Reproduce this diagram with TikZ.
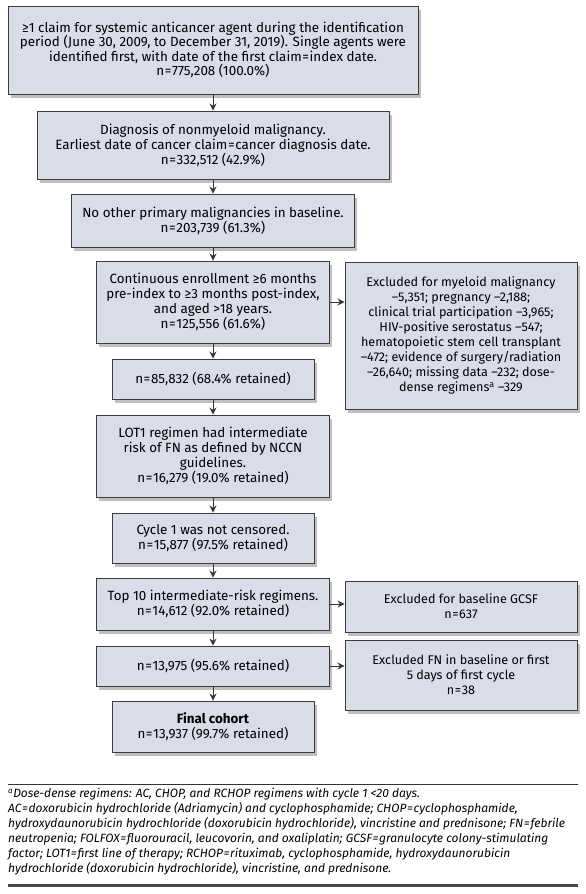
\documentclass[tikz,border=0pt]{standalone}
\usepackage{fontspec}
\setmainfont{Fira Sans}
\usetikzlibrary{shadows,arrows.meta}
\definecolor{boxfill}{RGB}{217,220,233}
\definecolor{boxline}{RGB}{60,60,60}
\definecolor{arrowcol}{RGB}{55,55,55}
\newcommand{\eq}{\kern0.6pt=\kern0.6pt}
\tikzset{
  flowbox/.style={draw=boxline, line width=0.9pt, fill=boxfill, align=center,
    inner sep=2pt, font=\fontsize{13.4}{15}\selectfont,
    drop shadow={shadow xshift=2.5pt, shadow yshift=-3.5pt, opacity=0.25, fill=black}},
  exclbox/.style={flowbox, font=\fontsize{12.6}{15}\selectfont},
  flowarrow/.style={draw=arrowcol, line width=1pt, -{Stealth[length=7pt,width=7pt]}}
}
\begin{document}
\begin{tikzpicture}[x=1pt,y=-1pt]
\useasboundingbox[fill=white] (0,0) rectangle (586,894);
% main column
\node[flowbox, minimum width=410pt, minimum height=88pt,
  font=\fontsize{13.4}{14.4}\selectfont] (b1) at (213,50)
  {≥1 claim for systemic anticancer agent during the identification\\
   period (June 30, 2009, to December 31, 2019). Single agents were\\
   identified first, with date of the first claim\eq index date.\\
   n\eq 775,208 (100.0\%)};
\node[flowbox, minimum width=352pt, minimum height=68pt] (b2) at (213,145)
  {Diagnosis of nonmyeloid malignancy.\\
   Earliest date of cancer claim\eq cancer diagnosis date.\\
   n\eq 332,512 (42.9\%)};
\node[flowbox, minimum width=283pt, minimum height=53pt] (b3) at (213,220.5)
  {No other primary malignancies in baseline.\\
   n\eq 203,739 (61.3\%)};
\node[flowbox, minimum width=233pt, minimum height=82pt] (b4) at (213,302)
  {Continuous enrollment ≥6 months\\
   pre-index to ≥3 months post-index,\\
   and aged >18 years.\\
   n\eq 125,556 (61.6\%)};
\node[flowbox, minimum width=202pt, minimum height=40pt] (b5) at (213,379)
  {n\eq 85,832 (68.4\% retained)};
\node[flowbox, minimum width=233pt, minimum height=82pt] (b6) at (213,456)
  {LOT1 regimen had intermediate\\
   risk of FN as defined by NCCN\\
   guidelines.\\
   n\eq 16,279 (19.0\% retained)};
\node[flowbox, minimum width=202pt, minimum height=50pt] (b7) at (213,538)
  {Cycle 1 was not censored.\\
   n\eq 15,877 (97.5\% retained)};
\node[flowbox, minimum width=233pt, minimum height=52pt] (b8) at (213,604)
  {Top 10 intermediate-risk regimens.\\
   n\eq 14,612 (92.0\% retained)};
\node[flowbox, minimum width=233pt, minimum height=40pt] (b9) at (213,666)
  {n\eq 13,975 (95.6\% retained)};
\node[flowbox, minimum width=202pt, minimum height=51pt] (b10) at (213,726.5)
  {\textbf{Final cohort}\\
   n\eq 13,937 (99.7\% retained)};
% exclusion boxes
\node[exclbox, minimum width=232pt, minimum height=147pt] (e1) at (461,335.5)
  {Excluded for myeloid malignancy\\
   –5,351; pregnancy –2,188;\\
   clinical trial participation –3,965;\\
   HIV-positive serostatus –547;\\
   hematopoietic stem cell transplant\\
   –472; evidence of surgery/radiation\\
   –26,640; missing data –232; dose-\\
   dense regimens\textsuperscript{a} –329};
\node[exclbox, minimum width=232pt, minimum height=51pt] (e2) at (461,606.5)
  {Excluded for baseline GCSF\\
   n\eq 637};
\node[exclbox, minimum width=232pt, minimum height=70pt] (e3) at (461,675)
  {Excluded FN in baseline or first\\
   5 days of first cycle\\
   n\eq 38};
% connectors
\draw[flowarrow] (b1) -- (b2);
\draw[flowarrow] (b2) -- (b3);
\draw[flowarrow] (b3) -- (b4);
\draw[flowarrow] (b4) -- (b5);
\draw[flowarrow] (b5) -- (b6);
\draw[flowarrow] (b6) -- (b7);
\draw[flowarrow] (b7) -- (b8);
\draw[flowarrow] (b8) -- (b9);
\draw[flowarrow] (b9) -- (b10);
\draw[flowarrow] (b4.east) -- (e1.west |- b4.east);
\draw[flowarrow] (b8.east) -- (e2.west |- b8.east);
\draw[flowarrow] (b9.east) -- (e3.west |- b9.east);
% footnote
\coordinate (rl) at (8,784);
\coordinate (rr) at (578,784);
\draw[line width=0.8pt, draw=black!80] (rl) -- (rr);
\node[anchor=north west, inner sep=0pt, align=left,
  font=\fontsize{12}{15}\selectfont\itshape] (fn) at (8,788)
  {\textsuperscript{a}Dose-dense regimens: AC, CHOP, and RCHOP regimens with cycle 1 <20 days.\\
   AC\eq doxorubicin hydrochloride (Adriamycin) and cyclophosphamide; CHOP\eq cyclophosphamide,\\
   hydroxydaunorubicin hydrochloride (doxorubicin hydrochloride), vincristine and prednisone; FN\eq febrile\\
   neutropenia; FOLFOX\eq fluorouracil, leucovorin, and oxaliplatin; GCSF\eq granulocyte colony-stimulating\\
   factor; LOT1\eq first line of therapy; RCHOP\eq rituximab, cyclophosphamide, hydroxydaunorubicin\\
   hydrochloride (doxorubicin hydrochloride), vincristine, and prednisone.};
\coordinate (bl) at (8,885.5);
\coordinate (br) at (578,885.5);
\draw[line width=3.5pt, draw=black!72] (bl) -- (br);
\end{tikzpicture}
\end{document}
